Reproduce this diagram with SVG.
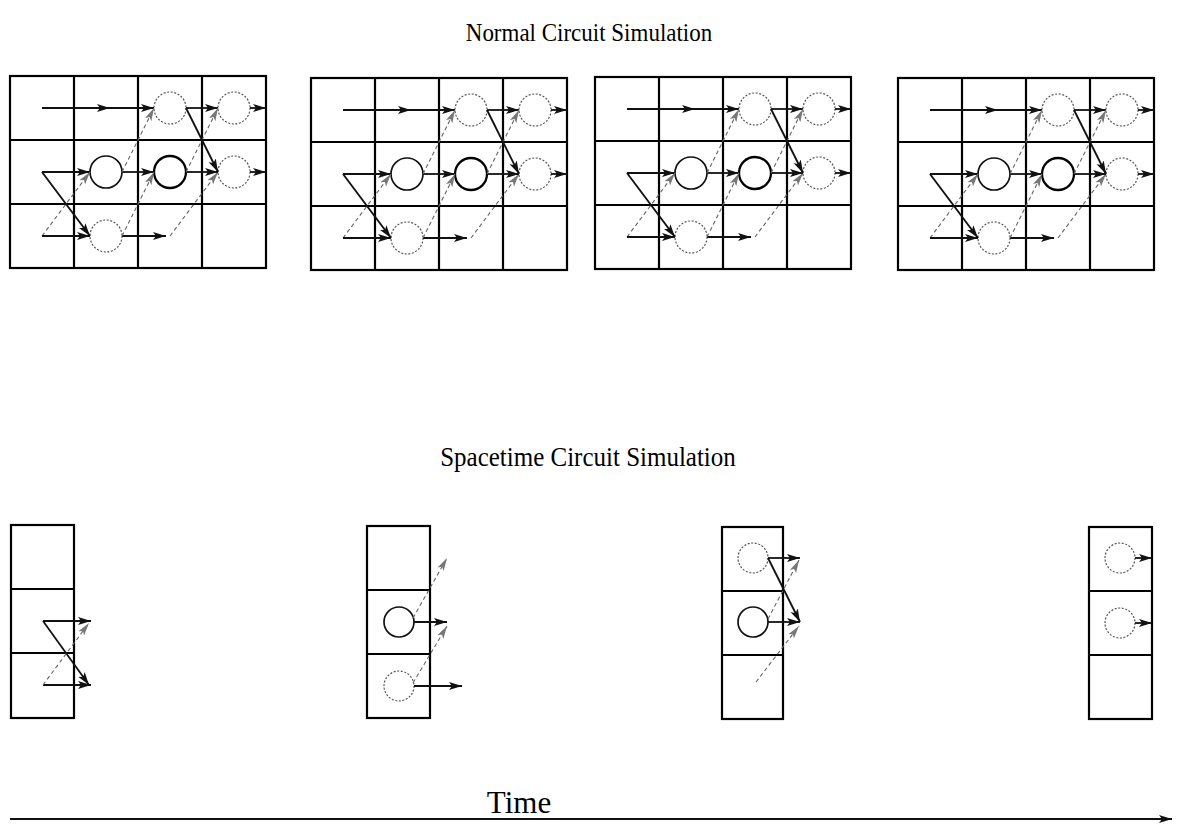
<svg xmlns="http://www.w3.org/2000/svg" xmlns:xlink="http://www.w3.org/1999/xlink" width="1178" height="825" viewBox="0 0 1178 825">
<style>
.bg{fill:#fff}
.grid{fill:none;stroke:#000;stroke-width:2.2}
.ar{fill:none;stroke:#111;stroke-width:1.8;marker-end:url(#ah)}
.arm{fill:none;stroke:#111;stroke-width:1.8;marker-mid:url(#ah);marker-end:url(#ah)}
.da{fill:none;stroke:#666;stroke-width:1.1;stroke-dasharray:4 3;marker-end:url(#dh)}
.cs{fill:none;stroke:#111;stroke-width:1.7}
.ct{fill:none;stroke:#000;stroke-width:2.3}
.cd{fill:none;stroke:#555;stroke-width:1.2;stroke-dasharray:2 1.6}
.t{font-family:"Liberation Serif","Times New Roman",serif;fill:#000;text-anchor:middle}
</style>
<defs>
<marker id="ah" markerUnits="userSpaceOnUse" markerWidth="15" markerHeight="10" refX="13" refY="5" orient="auto">
<path d="M0,1 L13,5 L0,9 L3,5 z" fill="#111"/>
</marker>
<marker id="dh" markerUnits="userSpaceOnUse" markerWidth="15" markerHeight="10" refX="13" refY="5" orient="auto">
<path d="M0,1.5 L13,5 L0,8.5 L3,5 z" fill="#777"/>
</marker>
<g id="ncs">
<rect class="grid" x="0" y="0" width="256" height="192"/>
<path class="grid" d="M64,0 V192 M128,0 V192 M192,0 V192 M0,64 H256 M0,128 H256"/>
<circle class="cd" cx="160" cy="32" r="16"/>
<circle class="cd" cx="224" cy="32" r="16"/>
<circle class="cs" cx="96" cy="96" r="16"/>
<circle class="ct" cx="160" cy="96" r="16"/>
<circle class="cd" cx="224" cy="96" r="16"/>
<circle class="cd" cx="96" cy="160" r="16"/>
<path class="arm" d="M32,32 L100,32 L144,32"/>
<path class="ar" d="M176,32 L208,32"/>
<path class="ar" d="M240,32 L256,32"/>
<path class="ar" d="M32,96 L80,96"/>
<path class="ar" d="M32,96 L80,160"/>
<path class="da" d="M32,160 L80,96"/>
<path class="ar" d="M32,160 L80,160"/>
<path class="ar" d="M112,96 L144,96"/>
<path class="da" d="M112,96 L144,32"/>
<path class="ar" d="M112,160 L156,160"/>
<path class="da" d="M160,160 L208,96"/>
<path class="da" d="M112,160 L144,96"/>
<path class="ar" d="M176,96 L208,96"/>
<path class="da" d="M176,96 L208,32"/>
<path class="ar" d="M176,32 L208,96"/>
<path class="ar" d="M240,96 L256,96"/>
</g>
</defs>
<rect class="bg" x="0" y="0" width="1178" height="825"/>
<text class="t" font-size="23" transform="translate(589,41) scale(1,1.12)">Normal Circuit Simulation</text>
<g id="normal-1"><use xlink:href="#ncs" transform="translate(10,76)"/></g>
<g id="normal-2"><use xlink:href="#ncs" transform="translate(311,78)"/></g>
<g id="normal-3"><use xlink:href="#ncs" transform="translate(595,77)"/></g>
<g id="normal-4"><use xlink:href="#ncs" transform="translate(898,78)"/></g>
<text class="t" font-size="25" transform="translate(588,466) scale(1,1.08)">Spacetime Circuit Simulation</text>
<g id="space-1" transform="translate(11,525)">
<rect class="grid" x="0" y="0" width="63" height="193"/>
<path class="grid" d="M0,64 H63 M0,128 H63"/>
</g>
<g id="space-2" transform="translate(367,526)">
<rect class="grid" x="0" y="0" width="63" height="192"/>
<path class="grid" d="M0,64 H63 M0,128 H63"/>
<circle class="cs" cx="32" cy="96" r="15"/>
<circle class="cd" cx="32" cy="160" r="15"/>
</g>
<g id="space-3" transform="translate(722,527)">
<rect class="grid" x="0" y="0" width="61" height="192"/>
<path class="grid" d="M0,64 H61 M0,128 H61"/>
<circle class="cd" cx="31" cy="31" r="15"/>
<circle class="cs" cx="31" cy="95" r="15"/>
</g>
<g id="space-4" transform="translate(1089,527)">
<rect class="grid" x="0" y="0" width="63" height="192"/>
<path class="grid" d="M0,64 H63 M0,128 H63"/>
<circle class="cd" cx="31" cy="31" r="15"/>
<circle class="cd" cx="31" cy="96" r="15"/>
</g>
<g id="connectors">
<g transform="translate(11,525)">
<path class="ar" d="M32,96 L80,96"/>
<path class="ar" d="M32,160 L80,160"/>
<path class="ar" d="M32,96 L78,160"/>
<path class="da" d="M32,160 L78,98"/>
</g>
<g transform="translate(367,526)">
<path class="ar" d="M47,96 L80,96"/>
<path class="ar" d="M47,160 L95,160"/>
<path class="da" d="M46,92 L80,32"/>
<path class="da" d="M46,157 L80,100"/>
</g>
<g transform="translate(722,527)">
<path class="ar" d="M46,31 L78,31"/>
<path class="ar" d="M46,95 L78,95"/>
<path class="ar" d="M46,31 L78,95"/>
<path class="da" d="M46,92 L77,33"/>
<path class="da" d="M34,155 L77,99"/>
</g>
<g transform="translate(1089,527)">
<path class="ar" d="M46,31 L63,31"/>
<path class="ar" d="M46,96 L63,96"/>
</g>
<path class="ar" d="M10,819 L1172,819"/>
</g>
<text class="t" font-size="31" transform="translate(519,813)">Time</text>
</svg>
